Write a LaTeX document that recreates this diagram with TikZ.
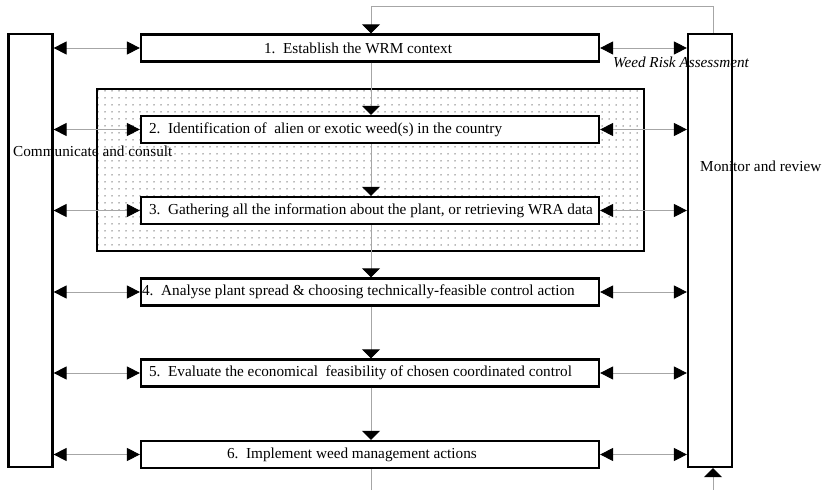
\documentclass[tikz,border=0pt]{standalone}
\usepackage{fontspec}
\setmainfont{Liberation Serif}
\usetikzlibrary{arrows.meta,patterns.meta}
\begin{document}
\begin{tikzpicture}[x=1bp,y=-1bp,
 box/.style={draw=black,line width=2.2bp,fill=white,minimum width=458bp,minimum height=27bp,inner sep=0pt},
 col/.style={draw=black,line width=2.2bp,fill=white,minimum width=44bp,minimum height=433bp,inner sep=0pt},
 txt/.style={font=\fontsize{15.3}{18}\selectfont,inner sep=0pt,anchor=west},
 conn/.style={draw=black!35,line width=0.9bp},
 harr/.style={conn,{Triangle[length=13bp,width=13bp,color=black]}-{Triangle[length=13bp,width=13bp,color=black]}},
 varr/.style={conn,-{Triangle[length=9bp,width=18bp,color=black]}},
]
\useasboundingbox (0,0) rectangle (822,490);
% dotted region
\path[pattern={Dots[distance=7bp,radius=0.75bp]},pattern color=black!55] (97,89) rectangle (644,251);
\draw[line width=2.2bp] (97,89) rectangle (644,251);
% columns
\node[col] (lc) at (30.5,250.5) {};
\node[col] (rc) at (710,250.5) {};
% boxes
\node[box] (b1) at (370,48) {};
\node[box] (b2) at (370,129.5) {};
\node[box] (b3) at (370,210.5) {};
\node[box] (b4) at (370,292) {};
\node[box] (b5) at (370,373) {};
\node[box] (b6) at (370,454.5) {};
% texts
\node[txt] (t1) at ([xshift=124bp]b1.west) {1.\ \ Establish the WRM context};
\node[txt] (t2) at ([xshift=9bp]b2.west) {2.\ \ Identification of\ \ alien or exotic weed(s) in the country};
\node[txt] (t3) at ([xshift=9bp]b3.west) {3.\ \ Gathering all the information about the plant, or retrieving WRA data};
\node[txt] (t4) at ([xshift=2bp]b4.west) {4.\ \ Analyse plant spread \& choosing technically-feasible control action};
\node[txt] (t5) at ([xshift=9bp]b5.west) {5.\ \ Evaluate the economical\ \ feasibility of chosen coordinated control};
\node[txt] (t6) at ([xshift=87bp]b6.west) {6.\ \ Implement weed management actions};
\node[txt] (cc) at (13,151) {Communicate and consult};
\node[txt] (mr) at (700,166) {Monitor and review};
\node[txt,font=\fontsize{15.3}{18}\selectfont\itshape] (wra) at (613,62) {Weed Risk Assessment};
% horizontal arrows
\foreach \b in {b1,b2,b3,b4,b5,b6}{
  \draw[harr] (lc.east |- \b.west) -- (\b.west);
  \draw[harr] (\b.east) -- (rc.west |- \b.east);
}
% vertical flow
\coordinate (tl) at (371,6);
\coordinate (tr) at (713,6);
\draw[varr] (rc.north -| tr) -- (tr) -- (tl) -- (b1.north -| tl);
\draw[varr] (b1.south -| tl) -- (b2.north -| tl);
\draw[varr] (b2.south -| tl) -- (b3.north -| tl);
\draw[varr] (b3.south -| tl) -- (b4.north -| tl);
\draw[varr] (b4.south -| tl) -- (b5.north -| tl);
\draw[varr] (b5.south -| tl) -- (b6.north -| tl);
\coordinate (bl) at (371,490);
\coordinate (br) at (713,490);
\draw[conn] (b6.south -| tl) -- (bl);
\draw[varr] (br) -- (rc.south -| br);
\end{tikzpicture}
\end{document}
